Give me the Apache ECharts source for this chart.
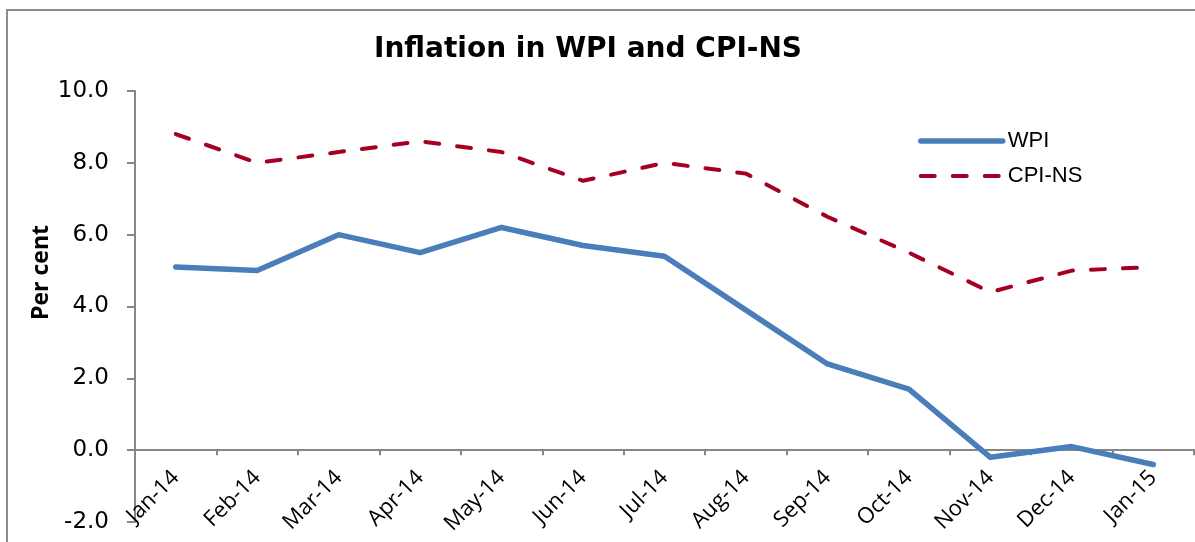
<!DOCTYPE html>
<html>
<head>
<meta charset="utf-8">
<script src="https://cdn.jsdelivr.net/npm/echarts@6/dist/echarts.min.js"></script>
<style>
  html, body { margin: 0; padding: 0; background: #fff; }
  #chart { width: 1195px; height: 542px; }
</style>
</head>
<body>
<div id="chart"></div>
<script>
// months on the x axis
var months = ['Jan-14', 'Feb-14', 'Mar-14', 'Apr-14', 'May-14', 'Jun-14', 'Jul-14',
              'Aug-14', 'Sep-14', 'Oct-14', 'Nov-14', 'Dec-14', 'Jan-15'];
// inflation, per cent
var wpi   = [5.1, 5.0, 6.0, 5.5, 6.2, 5.7, 5.4, 3.9, 2.4, 1.7, -0.2, 0.1, -0.4];
var cpiNs = [8.8, 8.0, 8.3, 8.6, 8.3, 7.5, 8.0, 7.7, 6.5, 5.5, 4.4, 5.0, 5.1];
var yTicks = [-2, 0, 2, 4, 6, 8, 10];

var gridTop = 91, gridBottom = 20, chartH = 542;
var yMin = yTicks[0], yMax = yTicks[yTicks.length - 1];
// move the category axis up to the zero line (labels included)
var plotH = chartH - gridTop - gridBottom;
var zeroOffset = -plotH * (0 - yMin) / (yMax - yMin);

var chart = echarts.init(document.getElementById('chart'));
var option = {
    animation: false,
    title: {
        text: 'Inflation in WPI and CPI-NS',
        left: 583,
        top: 31,
        textAlign: 'center',
        textStyle: { fontFamily: 'DejaVu Sans', fontSize: 28, fontWeight: 'bold', color: '#000' }
    },
    legend: {
        orient: 'vertical',
        left: 913,
        top: 125,
        itemWidth: 82,
        itemHeight: 14,
        itemGap: 13,
        itemStyle: { opacity: 0 },
        textStyle: { fontFamily: 'Liberation Sans', fontSize: 22, color: '#000' },
        data: [
            { name: 'WPI', lineStyle: { width: 5.5, opacity: 1 } },
            { name: 'CPI-NS', lineStyle: { width: 4, opacity: 1 } }
        ]
    },
    grid: { left: 135, right: 1, top: gridTop, bottom: gridBottom, outerBoundsMode: 'none', containLabel: false },
    xAxis: {
        type: 'category',
        data: months,
        boundaryGap: true,
        offset: zeroOffset,
        axisLine: { onZero: false, lineStyle: { color: '#868686', width: 2 } },
        axisTick: { show: true, length: 5, lineStyle: { color: '#868686', width: 2 } },
        axisLabel: { rotate: 45, margin: 24, interval: 0, fontFamily: 'Open Sans', fontSize: 22, color: '#000' },
        splitLine: { show: false }
    },
    yAxis: {
        type: 'value',
        min: yMin,
        max: yMax,
        interval: 2,
        name: 'Per cent',
        nameLocation: 'middle',
        nameGap: 82,
        nameMoveOverlap: false,
        nameTextStyle: { fontFamily: 'Open Sans', fontSize: 23, fontWeight: 'bold', color: '#000', padding: [0, 0, 0, 68] },
        axisLine: { show: true, onZero: false, lineStyle: { color: '#868686', width: 2 } },
        axisTick: { show: true, inside: false, length: 8, lineStyle: { color: '#868686', width: 2 } },
        axisLabel: {
            margin: 26, fontFamily: 'DejaVu Sans', fontSize: 23, color: '#000',
            formatter: function (v) { return v.toFixed(1); }
        },
        splitLine: { show: false }
    },
    graphic: [{
        type: 'rect',
        shape: { x: 7, y: 10, width: 1300, height: 700 },
        style: { fill: 'none', stroke: '#8c8c8c', lineWidth: 2 },
        silent: true
    }],
    series: [
        {
            name: 'WPI',
            type: 'line',
            data: wpi,
            symbol: 'none',
            lineStyle: { color: '#4a7ebb', width: 5.5, cap: 'round', join: 'round' },
            itemStyle: { color: '#4a7ebb' }
        },
        {
            name: 'CPI-NS',
            type: 'line',
            data: cpiNs,
            symbol: 'none',
            lineStyle: { color: '#a50021', width: 4, type: [14, 18], cap: 'round' },
            itemStyle: { color: '#a50021' }
        }
    ]
};
chart.setOption(option);
window.onresize = chart.resize;
</script>
</body>
</html>
